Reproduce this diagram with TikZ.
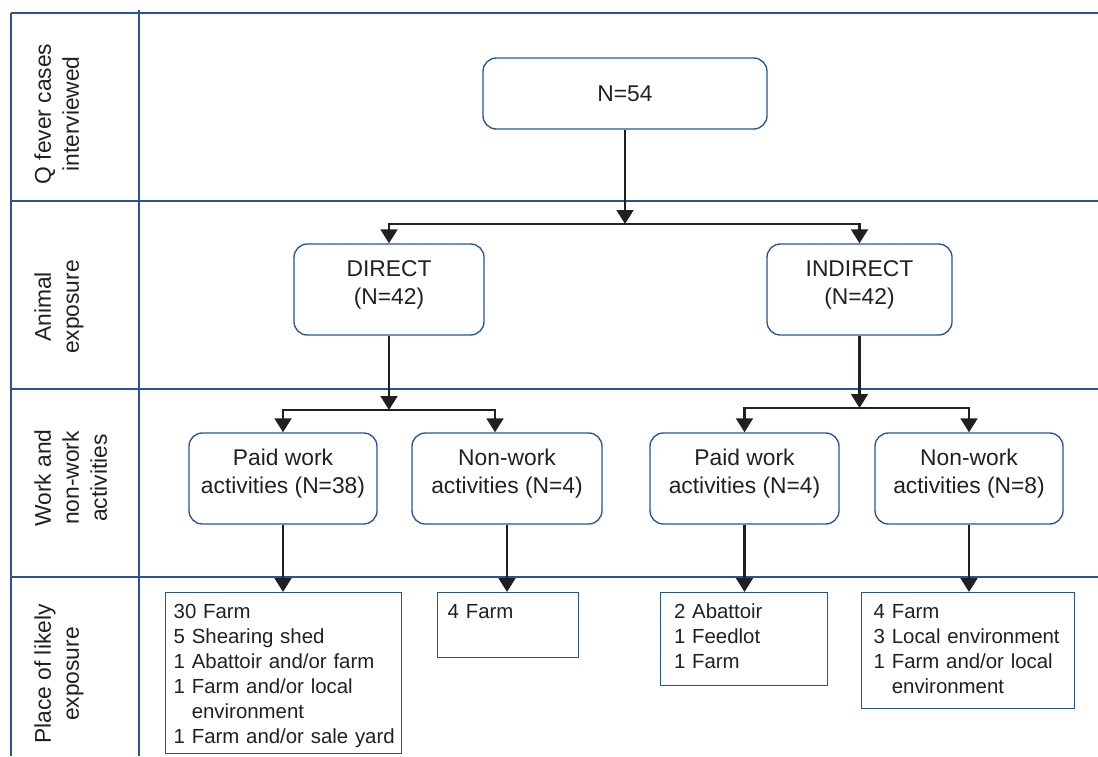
\documentclass[tikz,border=0pt]{standalone}
\usepackage{fontspec}
\setmainfont{Liberation Sans}
\usetikzlibrary{arrows.meta}
\definecolor{lanecol}{RGB}{38,84,150}
\definecolor{inkcol}{RGB}{35,31,32}
\newcommand{\lowpad}{\rule[-11pt]{0pt}{11pt}}

\begin{document}
\begin{tikzpicture}[x=0.75pt, y=-0.75pt,
        every node/.style={text=inkcol},
        stagebox/.style={draw=lanecol, line width=1pt, rounded corners=10pt, align=center,
            font=\fontsize{17.1}{21}\selectfont, minimum height=68.25pt, inner sep=0pt},
        placebox/.style={draw=lanecol, line width=1pt, anchor=north west, align=left,
            font=\fontsize{15.3}{18.75}\selectfont, inner xsep=7.5pt, inner ysep=7.5pt, text height=12pt},
        lanelabel/.style={rotate=90, anchor=north, align=center, inner sep=0pt,
            font=\fontsize{17.1}{21}\selectfont},
        lane/.style={draw=lanecol, line width=1.25pt},
        flow/.style={draw=inkcol, line width=2.2pt, -{Triangle[length=10.5pt, width=12.5pt]}}]
        \useasboundingbox (0,0) rectangle (1098,756);

        \draw[lane] (11,13) -- (11,756);
        \draw[lane] (139,10) -- (139,756);
        \foreach \y in {13,201,389,577}
            \draw[lane] (11,\y) -- (1098,\y);

        \node[lanelabel] at (34,114)(qlabel){Q fever cases\\interviewed};
        \node[lanelabel] at (34,307)(alabel){Animal\\exposure};
        \node[lanelabel] at (34,478)(wlabel){Work and\\non-work\\activities};
        \node[lanelabel] at (34,674)(plabel){Place of likely\\exposure};

        \node[stagebox, minimum width=213pt, minimum height=53.25pt] at (625,93.5)(total){N=54};
        \node[stagebox, minimum width=142.5pt] at (389,289.5)(direct){DIRECT\\(N=42)\lowpad};
        \node[stagebox, minimum width=138.75pt] at (859.5,289.5)(indirect){INDIRECT\\(N=42)\lowpad};
        \node[stagebox, minimum width=141pt] at (283,478.5)(dpaid){Paid work\\activities (N=38)\lowpad};
        \node[stagebox, minimum width=142.5pt] at (507,478.5)(dnonwork){Non-work\\activities (N=4)\lowpad};
        \node[stagebox, minimum width=141.75pt] at (744.5,478.5)(ipaid){Paid work\\activities (N=4)\lowpad};
        \node[stagebox, minimum width=141pt] at (969,478.5)(inonwork){Non-work\\activities (N=8)\lowpad};

        \node[placebox, inner xsep=6pt, text width=165pt, text depth=93.75pt] at (165,592)(dpaidplace)
            {30 Farm\\5 Shearing shed\\1 Abattoir and/or farm\\1 Farm and/or local\\\hphantom{1 }environment\\\mbox{1 Farm and/or sale yard}};
        \node[placebox, text width=90.75pt, text depth=21.75pt] at (437,592)(dnonplace){4 Farm};
        \node[placebox, inner xsep=10pt, text width=105.25pt, text depth=42.75pt] at (660,592)(ipaidplace)
            {2 Abattoir\\1 Feedlot\\1 Farm};
        \node[placebox, inner xsep=9pt, text width=141.75pt, text depth=60pt] at (861,592)(inonplace)
            {4 Farm\\3 Local environment\\1 Farm and/or local\\\hphantom{1 }environment};

        \coordinate (split) at (625,224);
        \coordinate (dsplit) at (389,410);
        \coordinate (isplit) at (859.5,408);

        \draw[flow] (total) -- (split);
        \draw[flow] (split) -| (direct);
        \draw[flow] (split) -| (indirect);
        \draw[flow] (direct) -- (dsplit);
        \draw[flow] (dsplit) -| (dpaid);
        \draw[flow] (dsplit) -| ([xshift=-9pt]dnonwork.north);
        \draw[flow] (indirect) -- (isplit);
        \draw[flow] (isplit) -| (ipaid);
        \draw[flow] (isplit) -| (inonwork);
        \draw[flow] (dpaid) -- (dpaid |- dpaidplace.north);
        \draw[flow] (dnonwork) -- (dnonwork |- dnonplace.north);
        \draw[flow] (ipaid) -- (ipaid |- ipaidplace.north);
        \draw[flow] (inonwork) -- (inonwork |- inonplace.north);
    \end{tikzpicture}
\end{document}
